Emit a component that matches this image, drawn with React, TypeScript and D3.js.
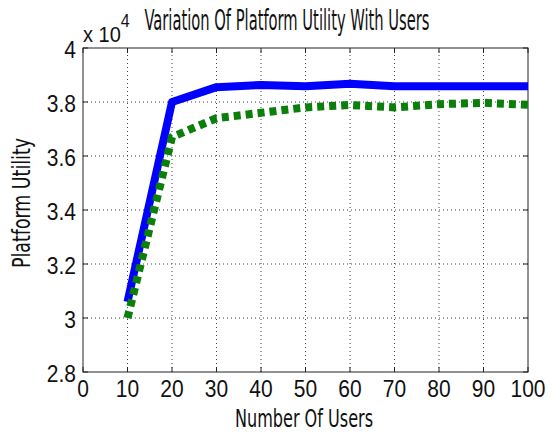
import React from 'react'
import * as d3 from 'd3'

// users on the x axis
const users = [10, 20, 30, 40, 50, 60, 70, 80, 90, 100]
// platform utility (x 10^4)
const utilitySolid = [3.06, 3.8, 3.855, 3.863, 3.858, 3.868, 3.858, 3.858, 3.858, 3.858]
const utilityDashed = [3.0, 3.67, 3.74, 3.76, 3.78, 3.789, 3.78, 3.792, 3.797, 3.79]
const xTicks = [0, 10, 20, 30, 40, 50, 60, 70, 80, 90, 100]
const yTicks = [2.8, 3, 3.2, 3.4, 3.6, 3.8, 4]

const W = 554
const H = 433
const margin = { top: 48, right: 26, bottom: 61, left: 83 }

export default function App() {
  const x = d3.scaleLinear().domain([0, 100]).range([margin.left, W - margin.right])
  const y = d3.scaleLinear().domain([2.8, 4]).range([H - margin.bottom, margin.top])

  const line = d3
    .line<number>()
    .x((d, i) => x(users[i]))
    .y(d => y(d))

  const x0 = margin.left,
    x1 = W - margin.right,
    y0 = H - margin.bottom,
    y1 = margin.top
  const tickFont = 'Liberation Sans, Arial, sans-serif'
  const labelFont = '"Liberation Sans Narrow", "DejaVu Sans Condensed", sans-serif'
  // the picture is a little stretched vertically
  const sy = 1.13

  return (
    <svg
      width={W}
      height={H}
      style={{ position: 'absolute', left: 0, top: 0, background: '#fff' }}>
      <rect x={0} y={0} width={W} height={H} fill='#fff' />

      {/* grid */}
      <g stroke='#444' strokeWidth={1} strokeDasharray='1,3'>
        {xTicks.slice(1, -1).map(t => (
          <line key={t} x1={x(t)} x2={x(t)} y1={y0} y2={y1} />
        ))}
        {yTicks.slice(1, -1).map(t => (
          <line key={t} x1={x0} x2={x1} y1={y(t)} y2={y(t)} />
        ))}
      </g>

      {/* frame */}
      <rect x={x0} y={y1} width={x1 - x0} height={y0 - y1} fill='none' stroke='#222' strokeWidth={1} />
      <g stroke='#222' strokeWidth={1}>
        {xTicks.map(t => (
          <g key={t}>
            <line x1={x(t)} x2={x(t)} y1={y0} y2={y0 - 5} />
            <line x1={x(t)} x2={x(t)} y1={y1} y2={y1 + 5} />
          </g>
        ))}
        {yTicks.map(t => (
          <g key={t}>
            <line x1={x0} x2={x0 + 5} y1={y(t)} y2={y(t)} />
            <line x1={x1} x2={x1 - 5} y1={y(t)} y2={y(t)} />
          </g>
        ))}
      </g>

      {/* series */}
      <path d={line(utilitySolid) || ''} fill='none' stroke='#0000ff' strokeWidth={8} strokeLinejoin='round' />
      <path
        d={line(utilityDashed) || ''}
        fill='none'
        stroke='#0a7f0a'
        strokeWidth={8}
        strokeDasharray='7,5'
      />

      {/* tick labels */}
      <g fontFamily={tickFont} fontSize={21} fill='#111'>
        {xTicks.map(t => (
          <text key={t} textAnchor='middle' transform={`translate(${x(t)},${y0 + 25}) scale(1,${sy})`}>
            {t}
          </text>
        ))}
        {yTicks.map(t => (
          <text key={t} textAnchor='end' transform={`translate(${x0 - 7},${y(t) + 10}) scale(1,${sy})`}>
            {t === 3 || t === 4 ? t : t.toFixed(1)}
          </text>
        ))}
        <text transform={`translate(83,42) scale(1,${sy})`} fontSize={20}>
          x 10
          <tspan dy={-13} fontSize={16}>
            4
          </tspan>
        </text>
      </g>

      {/* titles */}
      <g fontFamily={labelFont} fill='#111'>
        <text x={287} y={30} fontSize={28} textAnchor='middle' textLength={285} lengthAdjust='spacingAndGlyphs'>
          Variation Of Platform Utility With Users
        </text>
        <text x={304} y={427} fontSize={24} textAnchor='middle' textLength={138} lengthAdjust='spacingAndGlyphs'>
          Number Of Users
        </text>
        <text
          transform={`translate(30,203) rotate(-90)`}
          fontSize={24}
          textAnchor='middle'
          textLength={130}
          lengthAdjust='spacingAndGlyphs'>
          Platform Utility
        </text>
      </g>
    </svg>
  )
}
